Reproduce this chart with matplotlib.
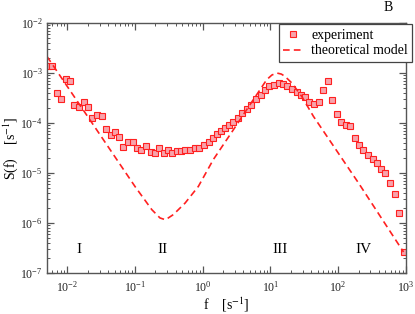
import matplotlib
matplotlib.use("Agg")
import matplotlib.pyplot as plt
from matplotlib.ticker import LogLocator, NullFormatter

plt.rcParams['font.family'] = ['Liberation Serif', 'DejaVu Serif']
plt.rcParams['mathtext.fontset'] = 'stix'

exp_f = [0.00524, 0.0060, 0.00705, 0.00807, 0.00946, 0.01107, 0.01268, 0.0149,
         0.01746, 0.0202, 0.0229, 0.0272, 0.0324, 0.0373, 0.0438, 0.0507,
         0.0586, 0.0671, 0.0789, 0.0925, 0.106, 0.124, 0.146, 0.171,
         0.195, 0.229, 0.268, 0.310, 0.356, 0.413, 0.479, 0.553,
         0.643, 0.762, 0.891, 1.045, 1.227, 1.406, 1.61, 1.875,
         2.158, 2.472, 2.83, 3.29, 3.80, 4.47, 5.22, 6.12,
         7.19, 8.24, 9.64, 11.3, 13.3, 15.5, 17.8, 20.9,
         24.5, 28.0, 32.8, 37.6, 44.1, 51.6, 60.4, 71.0,
         81.3, 95.5, 111.7, 131, 150, 176, 202, 236,
         277, 324, 372, 436, 499, 586, 687, 787, 923]
exp_S = [1.40e-3, 1.40e-3, 3.98e-4, 3.02e-4, 7.59e-4, 7.0e-4, 2.29e-4, 2.12e-4,
         2.63e-4, 2.12e-4, 1.24e-4, 1.42e-4, 1.36e-4, 7.7e-5, 5.65e-5, 6.7e-5,
         5.3e-5, 3.36e-5, 4.23e-5, 4.23e-5, 3.16e-5, 2.88e-5, 3.4e-5, 2.63e-5,
         2.47e-5, 3.1e-5, 2.47e-5, 2.83e-5, 2.47e-5, 2.75e-5, 2.75e-5, 2.88e-5,
         2.88e-5, 3.1e-5, 3.2e-5, 3.63e-5, 4.09e-5, 4.92e-5, 5.92e-5, 6.8e-5,
         7.8e-5, 9.1e-5, 1.06e-4, 1.26e-4, 1.58e-4, 1.91e-4, 2.32e-4, 3.02e-4,
         3.68e-4, 4.63e-4, 5.4e-4, 5.83e-4, 6.3e-4, 6.1e-4, 5.57e-4, 4.79e-4,
         4.09e-4, 3.68e-4, 3.25e-4, 2.58e-4, 2.4e-4, 2.63e-4, 4.63e-4, 7.0e-4,
         2.92e-4, 1.53e-4, 1.05e-4, 8.95e-5, 8.55e-5, 5.0e-5, 3.63e-5, 2.88e-5,
         2.25e-5, 1.87e-5, 1.58e-5, 1.2e-5, 1.0e-5, 6.4e-6, 3.8e-6, 1.61e-6, 2.63e-7]

# theoretical model curve, sampled from the figure
model_f = [0.0050, 0.0316, 0.100, 0.177, 0.234, 0.282, 0.368, 0.550,
           0.861, 1.436, 2.82, 5.58, 7.02, 8.81, 10.5, 12.4,
           14.5, 16.4, 20.7, 29.0, 43.1, 200, 923]
model_S = [2.15e-3, 5.40e-5, 5.37e-6, 1.85e-6, 1.26e-6, 1.16e-6, 1.47e-6, 2.51e-6,
           5.37e-6, 1.86e-5, 7.24e-5, 2.92e-4, 4.63e-4, 7.35e-4, 9.1e-4, 1.0e-3,
           9.5e-4, 8.55e-4, 6.3e-4, 3.40e-4, 1.36e-4, 6.3e-6, 2.63e-7]

regions = ['I', 'II', 'III', 'IV']
region_f = [0.015, 0.253, 13.9, 236]
region_S = 2.9e-7

fig = plt.figure(figsize=(4.15, 3.14), dpi=100)
ax = fig.add_axes([0.113, 0.1306, 0.865, 0.7962])

ax.plot(exp_f, exp_S, 's', ms=4.3, mfc='#f7a3ab', mec='#ff2020', mew=0.8,
        ls='none', label='experiment')
ax.plot(model_f, model_S, '--', color='#ff2020', lw=1.2, dashes=(4, 2.5),
        label='theoretical model')

ax.set_xscale('log')
ax.set_yscale('log')
ax.set_xlim(0.005, 1000)
ax.set_ylim(1e-7, 1e-2)

for name, xf in zip(regions, region_f):
    ax.text(xf, region_S, name, ha='center', va='center', fontsize=11)

gray = '#555555'
for s in ax.spines.values():
    s.set_color(gray)
    s.set_linewidth(1.0)
ax.xaxis.set_major_locator(LogLocator(base=10, numticks=20))
ax.yaxis.set_major_locator(LogLocator(base=10, numticks=20))
ax.xaxis.set_minor_locator(LogLocator(base=10, subs=range(2, 10), numticks=20))
ax.yaxis.set_minor_locator(LogLocator(base=10, subs=range(2, 10), numticks=20))
ax.xaxis.set_minor_formatter(NullFormatter())
ax.yaxis.set_minor_formatter(NullFormatter())
ax.tick_params(which='both', direction='in', top=True, right=True, color=gray,
               labelsize=8.5, labelcolor='#222222')
ax.tick_params(which='major', length=5, width=0.9)
ax.tick_params(which='minor', length=2.5, width=0.7)
ax.tick_params(axis='x', pad=5)
ax.tick_params(axis='y', pad=3)

ax.set_xlabel('f    [s$^{-1}$]', fontsize=10)
ax.set_ylabel('S(f)    [s$^{-1}$]', fontsize=10)
ax.xaxis.set_label_coords(0.5, -0.09)
ax.yaxis.set_label_coords(-0.075, 0.5)

leg = ax.legend(loc='upper left', bbox_to_anchor=(0.673, 0.922),
                bbox_transform=fig.transFigure, fontsize=10, fancybox=False,
                framealpha=1, edgecolor='#444444', borderpad=0.3,
                handlelength=1.4, handletextpad=0.6, labelspacing=0.2,
                borderaxespad=0)
leg.get_frame().set_linewidth(0.9)

fig.text(0.935, 0.977, 'B', fontsize=10, ha='center', va='center')

fig.savefig('out.png', dpi=100)
